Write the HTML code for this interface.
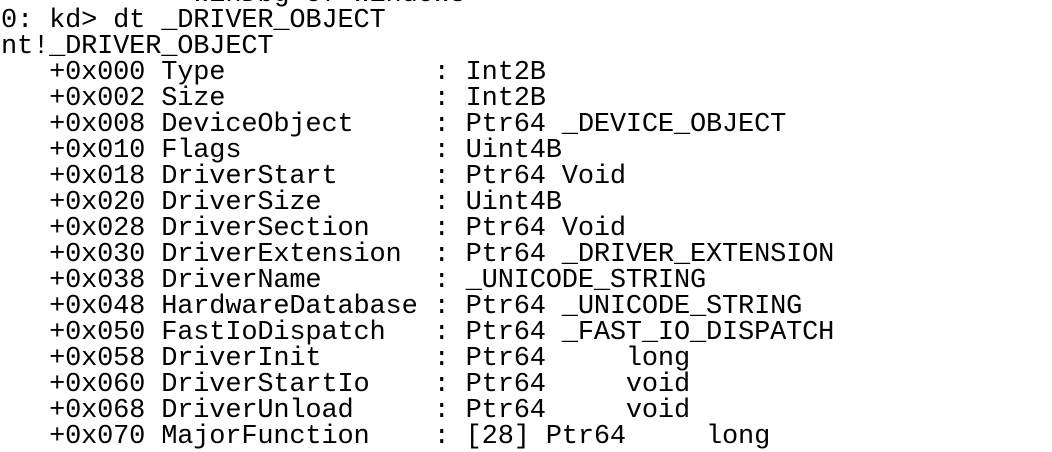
<!DOCTYPE html>
<html><head><style>
html,body{margin:0;padding:0;background:#fff;width:1052px;height:448px;overflow:hidden}
pre{position:absolute;left:1px;top:-18px;margin:0;font-family:"Liberation Mono",monospace;font-size:27px;line-height:26px;color:#000;letter-spacing:-0.18px}
</style></head><body>
<pre>            WinDbg of Windows
0: kd&gt; dt _DRIVER_OBJECT
nt!_DRIVER_OBJECT
   +0x000 Type             : Int2B
   +0x002 Size             : Int2B
   +0x008 DeviceObject     : Ptr64 _DEVICE_OBJECT
   +0x010 Flags            : Uint4B
   +0x018 DriverStart      : Ptr64 Void
   +0x020 DriverSize       : Uint4B
   +0x028 DriverSection    : Ptr64 Void
   +0x030 DriverExtension  : Ptr64 _DRIVER_EXTENSION
   +0x038 DriverName       : _UNICODE_STRING
   +0x048 HardwareDatabase : Ptr64 _UNICODE_STRING
   +0x050 FastIoDispatch   : Ptr64 _FAST_IO_DISPATCH
   +0x058 DriverInit       : Ptr64     long 
   +0x060 DriverStartIo    : Ptr64     void 
   +0x068 DriverUnload     : Ptr64     void 
   +0x070 MajorFunction    : [28] Ptr64     long 
</pre>
</body></html>
